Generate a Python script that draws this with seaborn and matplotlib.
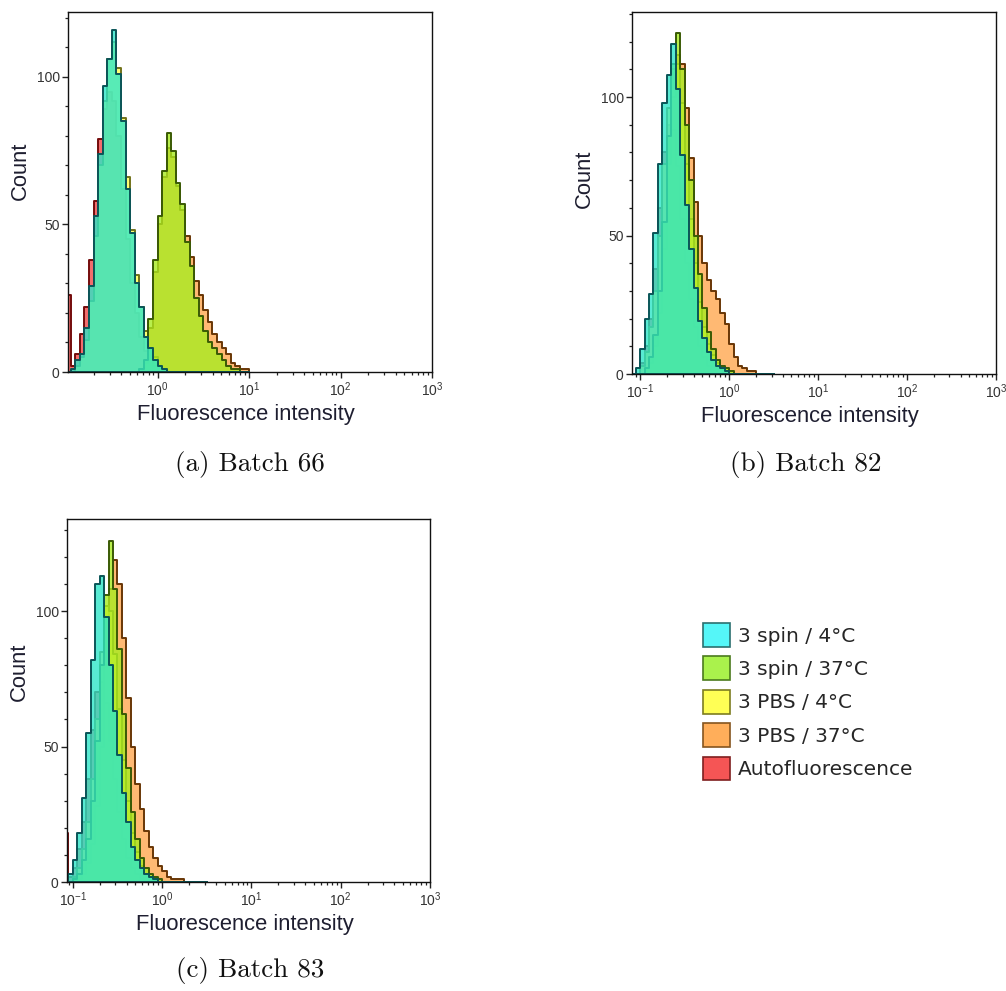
import numpy as np
import matplotlib as mpl
import matplotlib.pyplot as plt
from matplotlib.patches import Patch
from matplotlib.ticker import LogLocator, LogFormatterMathtext, MultipleLocator, NullFormatter
import seaborn as sns

mpl.use('Agg')

# Channel grid: log10(fluorescence intensity), 0.05 decade per channel bin
bin_width = 0.05
range_66 = (-1.0, 1.0)
range_82 = (-1.1, 0.5)
range_83 = (-1.1, 0.5)

conditions = ['3 spin / 4°C', '3 spin / 37°C', '3 PBS / 4°C', '3 PBS / 37°C', 'Autofluorescence']

# Batch 66 counts per channel
spin4_66 = [0, 1, 4, 6, 15, 29, 53, 74, 97, 106, 116, 101, 85, 62, 47, 30, 22, 12, 8, 4,
            2, 1, 0, 0, 0, 0, 0, 0, 0, 0, 0, 0, 0, 0, 0, 0, 0, 0, 0, 0]
spin37_66 = [0, 0, 0, 0, 0, 0, 0, 0, 0, 0, 0, 0, 0, 0, 0, 0, 1, 4, 18, 38,
             53, 68, 81, 75, 64, 57, 44, 36, 25, 19, 14, 10, 8, 6, 4, 2, 1, 1, 0, 0]
pbs4_66 = [0, 0, 2, 5, 11, 24, 46, 70, 92, 106, 112, 103, 86, 66, 48, 33, 22, 14, 8, 5,
           2, 1, 0, 0, 0, 0, 0, 0, 0, 0, 0, 0, 0, 0, 0, 0, 0, 0, 0, 0]
pbs37_66 = [0, 0, 0, 0, 0, 0, 0, 0, 0, 0, 0, 0, 0, 0, 0, 0, 1, 3, 15, 34,
            50, 66, 76, 73, 63, 55, 46, 39, 31, 26, 21, 17, 13, 10, 8, 6, 3, 2, 1, 1]
auto_66 = [26, 2, 6, 13, 22, 38, 58, 79, 89, 95, 92, 80, 62, 45, 30, 20, 12, 7, 4, 2,
           1, 0, 0, 0, 0, 0, 0, 0, 0, 0, 0, 0, 0, 0, 0, 0, 0, 0, 0, 0]

# Batch 82 counts per channel
spin4_82 = [0, 2, 9, 20, 29, 51, 76, 98, 108, 119, 103, 79, 61, 45, 31, 19, 13, 8, 5, 3,
            2, 1, 0, 0, 0, 0, 0, 0, 0, 0, 0, 0]
spin37_82 = [0, 0, 0, 2, 6, 14, 30, 55, 86, 112, 123, 110, 90, 70, 50, 36, 24, 15, 9, 5,
             3, 2, 1, 0, 0, 0, 0, 0, 0, 0, 0, 0]
pbs4_82 = [0, 0, 3, 8, 17, 30, 50, 76, 96, 110, 112, 98, 76, 56, 40, 26, 17, 11, 7, 4,
           2, 1, 0, 0, 0, 0, 0, 0, 0, 0, 0, 0]
pbs37_82 = [0, 0, 0, 1, 4, 10, 22, 45, 76, 100, 115, 112, 96, 78, 62, 50, 40, 34, 30, 27,
            22, 18, 11, 6, 3, 2, 1, 1, 0, 0, 0, 0]
auto_82 = [0, 0, 4, 10, 20, 38, 60, 80, 90, 88, 75, 56, 40, 27, 17, 10, 6, 3, 1, 0,
           0, 0, 0, 0, 0, 0, 0, 0, 0, 0, 0, 0]

# Batch 83 counts per channel
spin4_83 = [0, 3, 8, 18, 31, 55, 82, 110, 113, 98, 80, 63, 47, 33, 22, 13, 8, 5, 3, 2,
            1, 0, 0, 0, 0, 0, 0, 0, 0, 0, 0, 0]
spin37_83 = [0, 0, 1, 3, 8, 16, 30, 52, 80, 106, 126, 108, 86, 62, 42, 26, 16, 9, 5, 3,
             2, 1, 0, 0, 0, 0, 0, 0, 0, 0, 0, 0]
pbs4_83 = [0, 0, 2, 5, 12, 22, 38, 60, 85, 102, 100, 84, 64, 45, 30, 18, 11, 6, 3, 2,
           1, 0, 0, 0, 0, 0, 0, 0, 0, 0, 0, 0]
pbs37_83 = [0, 0, 0, 1, 3, 7, 14, 28, 50, 80, 108, 119, 110, 90, 68, 50, 36, 27, 19, 13,
            9, 6, 4, 2, 1, 1, 1, 0, 0, 0, 0, 0]
auto_83 = [18, 2, 5, 12, 22, 38, 56, 70, 74, 66, 52, 38, 26, 16, 9, 5, 3, 1, 0, 0,
           0, 0, 0, 0, 0, 0, 0, 0, 0, 0, 0, 0]

fill_colors = ['#2EE6C8', '#A8EC20', '#FFFF50', '#FFA850', '#F04848']
edge_colors = ['#0A5558', '#3A5A05', '#72721A', '#683606', '#740C0C']
legend_fill = ['#55F6F8', '#AAF24C', '#FFFF55', '#FFAE5A', '#F55555']
legend_edge = ['#2B6F6F', '#4B7A1E', '#7D7D20', '#85551F', '#7F1F1F']
draw_order = [4, 3, 2, 1, 0]

sns.set_theme(style='ticks')
plt.rcParams['font.family'] = ['Liberation Sans', 'DejaVu Sans']
plt.rcParams['mathtext.fontset'] = 'custom'
plt.rcParams['mathtext.rm'] = 'Liberation Sans'
plt.rcParams['mathtext.it'] = 'Liberation Sans:italic'
plt.rcParams['mathtext.bf'] = 'Liberation Sans:bold'

fig = plt.figure(figsize=(10.06, 9.91), dpi=100)
W, H = 1006, 991


def add_axes(left, top, right, bottom):
    return fig.add_axes([left / W, 1 - bottom / H, (right - left) / W, (bottom - top) / H])


def draw_panel(ax, bin_range, series, xmin, ymax, label_y):
    n = len(series[0])
    centers = np.linspace(bin_range[0] + bin_width / 2, bin_range[1] - bin_width / 2, n)
    for i in draw_order:
        sns.histplot(x=10 ** centers, weights=series[i], binwidth=bin_width, binrange=bin_range,
                     log_scale=True, element='step', fill=True, color=fill_colors[i],
                     edgecolor=edge_colors[i], linewidth=1.4, alpha=0.8, ax=ax)
    ax.set_xlim(xmin, 1000)
    ax.set_ylim(0, ymax)
    ax.xaxis.set_major_locator(LogLocator(base=10))
    ax.xaxis.set_major_formatter(LogFormatterMathtext())
    ax.xaxis.set_minor_locator(LogLocator(base=10, subs=np.arange(2, 10)))
    ax.xaxis.set_minor_formatter(NullFormatter())
    ax.yaxis.set_major_locator(MultipleLocator(50))
    ax.yaxis.set_minor_locator(MultipleLocator(10))
    ax.tick_params(which='major', length=4, width=1, color='#222222', labelsize=10,
                   labelcolor='#333333', pad=2)
    ax.tick_params(which='minor', length=2.5, width=0.9, color='#222222')
    for sp in ax.spines.values():
        sp.set_visible(True)
        sp.set_linewidth(1.0)
        sp.set_color('#111111')
    ax.set_xlabel('Fluorescence intensity', fontsize=15.8, color='#1E1E30', labelpad=4, x=0.49)
    ax.set_ylabel('Count', fontsize=15.8, color='#1E1E30', labelpad=4, y=label_y)


ax_a = add_axes(68, 12, 432, 372)
draw_panel(ax_a, range_66, [spin4_66, spin37_66, pbs4_66, pbs37_66, auto_66], 0.105, 122, 0.56)
ax_b = add_axes(632, 12, 996, 374)
draw_panel(ax_b, range_82, [spin4_82, spin37_82, pbs4_82, pbs37_82, auto_82], 0.081, 130.7, 0.54)
ax_c = add_axes(67, 519, 430, 882)
draw_panel(ax_c, range_83, [spin4_83, spin37_83, pbs4_83, pbs37_83, auto_83], 0.086, 134, 0.58)

caption_kw = dict(fontsize=19.5, fontfamily='cmr10', ha='center', va='center', color='#111111')
fig.text(250 / W, 1 - 465 / H, '(a) Batch 66', **caption_kw)
fig.text(806 / W, 1 - 465 / H, '(b) Batch 82', **caption_kw)
fig.text(250 / W, 1 - 970 / H, '(c) Batch 83', **caption_kw)

handles = [Patch(facecolor=legend_fill[i], edgecolor=legend_edge[i], linewidth=1.2, label=conditions[i])
           for i in range(len(conditions))]
fig.legend(handles=handles, loc='upper left', bbox_to_anchor=(703 / W, 1 - 623 / H),
           frameon=False, prop={'family': 'DejaVu Sans', 'size': 14.5}, handlelength=1.35,
           handleheight=1.45, labelspacing=0.47, handletextpad=0.4, borderpad=0,
           borderaxespad=0)

fig.savefig('out.png', dpi=100)
